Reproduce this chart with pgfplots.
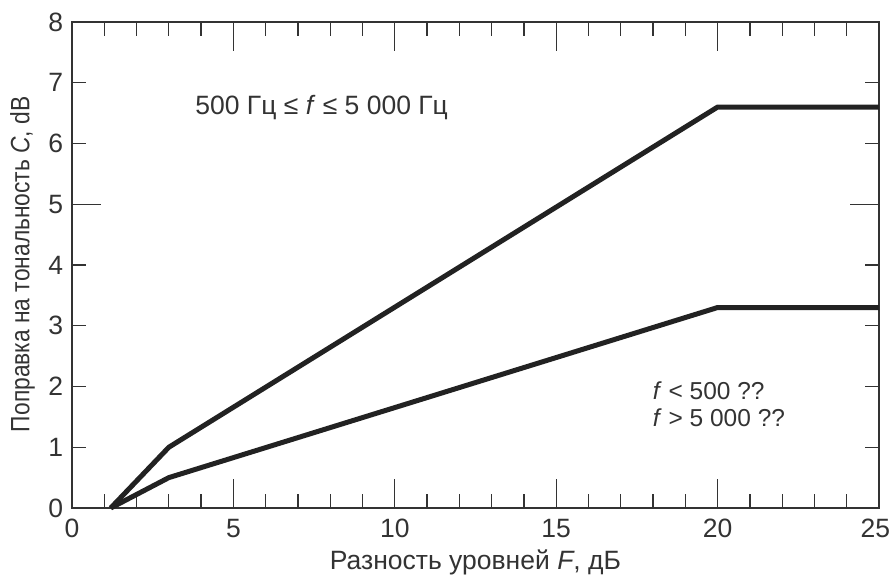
\documentclass[border=0pt]{standalone}
\usepackage{pgfplots}
\pgfplotsset{compat=1.18}
\usepackage{fontspec}
\setmainfont{Liberation Sans}
\newfontfamily\condensed[FakeStretch=0.86]{Liberation Sans}
\definecolor{ln}{HTML}{222222}
\definecolor{ax}{HTML}{333333}
\begin{document}
\begin{tikzpicture}
\useasboundingbox (-28.8pt,-29.2pt) rectangle (327.2pt,203.2pt);
\begin{axis}[
  at={(0,0)}, anchor=south west,
  scale only axis, width=322.8pt, height=194.4pt,
  xmin=0, xmax=25, ymin=0, ymax=8,
  axis line style={ax, line width=0.5pt},
  tick align=inside,
  tick style={ax, line width=0.5pt},
  xtick={0,5,...,25},
  xticklabels={0,5,10,15,20,{\hspace*{-3pt}25}},
  minor xtick={1,...,24},
  ytick={0,5},
  extra y ticks={1,2,3,4,6,7,8},
  extra y tick style={major tick length=5.5pt},
  major tick length=11.5pt,
  minor tick length=5.5pt,
  /pgf/number format/assume math mode=true,
  ticklabel style={font=\fontsize{10.6pt}{12.5pt}\selectfont, text=ax},
  xticklabel style={yshift=-1pt},
  xlabel={Разность уровней \textit{F}, дБ},
  ylabel={Поправка на тональность \textit{C}, dB},
  xlabel style={font=\fontsize{10.6pt}{12.5pt}\selectfont, text=ax, yshift=2pt},
  ylabel style={font=\condensed\fontsize{10.6pt}{12.5pt}\selectfont, text=ax, yshift=-1.4pt, xshift=0.3pt},
  clip=false,
]
\addplot[ln, line width=2pt, line join=round] coordinates {(1.2,0) (3,1) (20,6.6) (25,6.6)};
\addplot[ln, line width=2pt, line join=round] coordinates {(1.2,0) (3,0.5) (20,3.3) (25,3.3)};
\node[anchor=west, text=ax, font=\fontsize{10.6pt}{12pt}\selectfont] at (axis cs:3.55,6.6) {500 Гц ≤ \textit{f} ≤ 5 000 Гц};
\node[anchor=west, text=ax, font=\fontsize{9.8pt}{12pt}\selectfont] at (axis cs:17.72,1.93) {\textit{f} < 500 ??};
\node[anchor=west, text=ax, font=\fontsize{9.8pt}{12pt}\selectfont] at (axis cs:17.72,1.49) {\textit{f} > 5 000 ??};
\end{axis}
\end{tikzpicture}
\end{document}
